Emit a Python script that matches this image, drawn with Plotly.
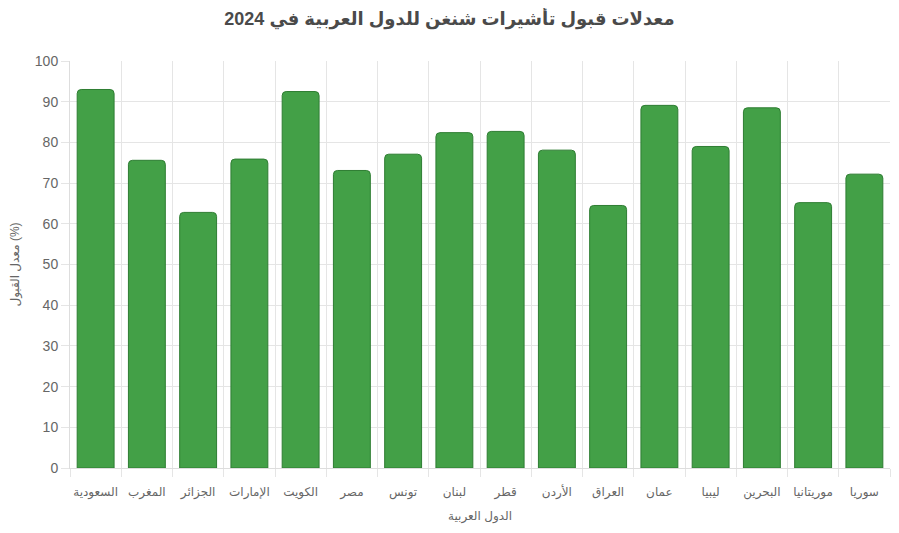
import plotly.graph_objects as go

# Arab countries and visa acceptance rates
countries = ['السعودية', 'المغرب', 'الجزائر', 'الإمارات', 'الكويت', 'مصر', 'تونس', 'لبنان',
             'قطر', 'الأردن', 'العراق', 'عمان', 'ليبيا', 'البحرين', 'موريتانيا', 'سوريا']
rates = [93.0, 75.6, 62.8, 75.9, 92.5, 73.1, 77.1, 82.4, 82.7, 78.1, 64.5, 89.1, 79.0, 88.5, 65.2, 72.2]
positions = list(range(len(countries)))

fig = go.Figure()
fig.add_trace(go.Bar(x=positions, y=rates, marker=dict(color='#43a047', line=dict(color='#2e7d32', width=1)),
                     hovertemplate='%{text}: %{y}%<extra></extra>', text=countries, textposition='none'))

# page body has an 8px margin, so the figure is a bit smaller than the window
fig.update_layout(
    width=883, height=517,
    margin=dict(l=62, r=1, t=53, b=57, autoexpand=False),
    paper_bgcolor='white', plot_bgcolor='white',
    font=dict(family='Arial, DejaVu Sans', color='#666', size=12),
    title=dict(text='<b>معدلات قبول تأشيرات شنغن للدول العربية في 2024</b>', x=0.5, xanchor='center',
               y=0.98, yanchor='middle', font=dict(size=18, color='#4a4a4a')),
    bargap=0.28, barcornerradius=4, showlegend=False,
)
fig.update_xaxes(range=[-0.5, len(countries) - 0.5], tickvals=positions, ticktext=countries,
                 showgrid=False, zeroline=False, ticks='', showline=True, linecolor='#ddd',
                 minor=dict(tick0=0.5, dtick=1, showgrid=True, gridcolor='#e5e5e5', ticks='outside',
                            ticklen=8, tickcolor='#e5e5e5'),
                 tickfont=dict(size=12, color='#666'), automargin=False, ticklabelstandoff=13,
                 title=dict(text='الدول العربية', font=dict(size=12, color='#666'), standoff=12))
fig.update_yaxes(range=[0, 100], dtick=10, showgrid=True, gridcolor='#e5e5e5', zeroline=False,
                 showline=True, linecolor='#ddd', ticks='outside', ticklen=8, tickcolor='#e5e5e5',
                 tickfont=dict(size=14, color='#666'), automargin=False,
                 title=dict(text='معدل القبول (%)', font=dict(size=12, color='#666'), standoff=13))

fig.write_html("out.html")
